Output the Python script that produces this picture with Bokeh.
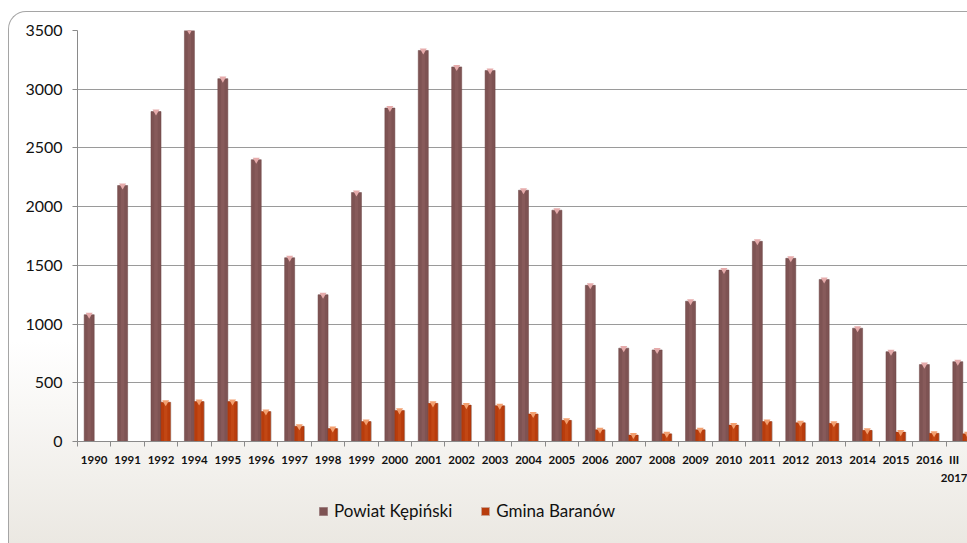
import numpy as np
from bokeh.plotting import figure
from bokeh.layouts import column
from bokeh.models import (Range1d, LinearAxis, FixedTicker, Legend, LegendItem,
                          ColumnDataSource, Grid)
from bokeh.embed import file_html
from bokeh.resources import INLINE

categories = ["1990", "1991", "1992", "1994", "1995", "1996", "1997", "1998",
              "1999", "2000", "2001", "2002", "2003", "2004", "2005", "2006",
              "2007", "2008", "2009", "2010", "2011", "2012", "2013", "2014",
              "2015", "2016", "III\n2017"]
powiat = [1080, 2180, 2810, 3500, 3090, 2400, 1565, 1250, 2120, 2840, 3330,
          3190, 3160, 2140, 1970, 1330, 795, 780, 1195, 1460, 1705, 1560,
          1380, 965, 765, 655, 680]
gmina = [0, 0, 335, 340, 340, 255, 130, 110, 170, 265, 325, 310, 305, 235,
         180, 100, 55, 65, 100, 140, 170, 160, 155, 95, 80, 70, 65]
y_ticks = [0, 500, 1000, 1500, 2000, 2500, 3000, 3500]
series_names = ["Powiat Kępiński", "Gmina Baranów"]

POW_COLOR, POW_LINE = "#7e5353", "#6a4343"
GM_COLOR, GM_LINE = "#b83c0c", "#9a300a"

n = len(categories)
centers = np.arange(n) + 0.5
visible_end = 26.67

src = ColumnDataSource(dict(
    xp=centers - 0.15, xg=centers + 0.14, xs=centers + 0.17,
    powiat=powiat, gmina=gmina,
    gtop=[g if g > 0 else np.nan for g in gmina],
))

p = figure(width=959, height=490, output_backend="svg", toolbar_location=None,
           x_range=Range1d(0, visible_end), y_range=Range1d(0, 3500),
           min_border_left=68, min_border_right=0, min_border_top=18,
           min_border_bottom=61, x_axis_type=None, y_axis_type=None)
p.border_fill_color = None
p.background_fill_color = "white"
p.outline_line_color = None
p.styles = {
    "border-top": "1px solid #a5a5a5",
    "border-left": "1px solid #a5a5a5",
    "border-top-left-radius": "18px",
    "box-sizing": "border-box",
}

# y axis
yax = LinearAxis(ticker=FixedTicker(ticks=y_ticks))
yax.axis_line_color = "#8a8a8a"
yax.major_tick_line_color = "#8a8a8a"
yax.major_tick_out = 5
yax.major_tick_in = 0
yax.minor_tick_line_color = None
yax.major_label_standoff = 10
yax.major_label_text_font = "Lato"
yax.major_label_text_font_size = "16px"
yax.major_label_text_color = "#111111"
p.add_layout(yax, "left")

# x axis
xax = LinearAxis(ticker=FixedTicker(ticks=list(centers),
                                    minor_ticks=list(range(0, n + 1))))
xax.major_label_overrides = {float(c): lab for c, lab in zip(centers, categories)}
xax.axis_line_color = "#8a8a8a"
xax.major_tick_line_color = None
xax.major_tick_out = 0
xax.major_tick_in = 0
xax.minor_tick_line_color = "#8a8a8a"
xax.minor_tick_out = 5
xax.minor_tick_in = 0
xax.major_label_standoff = 6
xax.major_label_text_font = "Lato"
xax.major_label_text_font_style = "bold"
xax.major_label_text_font_size = "11.5px"
xax.major_label_text_line_height = 1.4
xax.major_label_text_color = "#111111"
p.add_layout(xax, "below")

p.add_layout(Grid(dimension=1, ticker=yax.ticker, grid_line_color="#9a9a9a",
                  grid_line_width=1))

# bars
p.vbar(x="xp", top="powiat", width=0.3, source=src,
       fill_color=POW_COLOR, line_color=POW_LINE, line_width=0.5)
p.vbar(x="xp", top="powiat", width=0.1, source=src,
       fill_color="#8a5d5d", line_color=None, fill_alpha=0.8)
p.scatter(x="xp", y="powiat", source=src, marker="inverted_triangle",
          size=7, fill_color="#e6abab", line_color=None)

p.vbar(x="xs", top="gmina", width=0.28, source=src, fill_color="#cccccc",
       line_color=None)
p.vbar(x="xg", top="gmina", width=0.28, source=src,
       fill_color=GM_COLOR, line_color=GM_LINE, line_width=0.5)
p.vbar(x="xg", top="gmina", width=0.1, source=src,
       fill_color="#c44a16", line_color=None, fill_alpha=0.8)
p.scatter(x="xg", y="gtop", source=src, marker="inverted_triangle",
          size=7, fill_color="#f3a070", line_color=None)

# legend strip below the chart (its renderers sit outside the visible range)
pl = figure(width=959, height=42, output_backend="svg", toolbar_location=None,
            x_range=Range1d(0, 1), y_range=Range1d(0, 1),
            min_border=0, x_axis_type=None, y_axis_type=None)
pl.border_fill_color = None
pl.background_fill_color = None
pl.outline_line_color = None
pl.xgrid.visible = False
pl.ygrid.visible = False
pl.styles = {"border-left": "1px solid #a5a5a5", "box-sizing": "border-box"}
lp = pl.vbar(x=[5], top=[1], width=0.1, fill_color=POW_COLOR, line_color="#9e8080")
lg = pl.vbar(x=[5], top=[1], width=0.1, fill_color=GM_COLOR, line_color="#c9a090")

legend = Legend(items=[LegendItem(label=series_names[0], renderers=[lp]),
                       LegendItem(label=series_names[1], renderers=[lg])],
                orientation="horizontal", location=(241, 22))
legend.border_line_color = None
legend.background_fill_alpha = 0
legend.padding = 0
legend.margin = 0
legend.spacing = 28
legend.glyph_width = 10
legend.glyph_height = 10
legend.label_height = 10
legend.label_standoff = 6
legend.label_text_font = "Lato"
legend.label_text_font_size = "17px"
legend.label_text_color = "#111111"
pl.add_layout(legend, "center")

layout = column(p, pl, spacing=0, margin=(11, 0, 0, 8))
layout.styles = {
    "background": "linear-gradient(to bottom, #ffffff 0%, #ffffff 62%, #ebe8e2 100%)",
    "border-top-left-radius": "18px",
}

open("out.html", "w").write(file_html(layout, INLINE))
